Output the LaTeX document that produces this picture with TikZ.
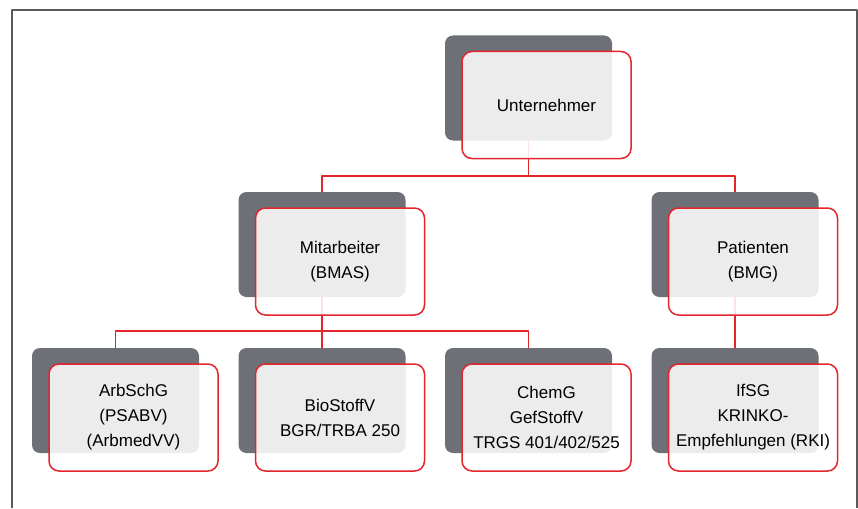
\documentclass[tikz,border=0pt]{standalone}
\usepackage{fontspec}
\setmainfont{Liberation Sans}
\usepackage{xcolor}
\usepackage{tikz}
\usetikzlibrary{positioning}
\definecolor{frame}{HTML}{5A5A5A}
\definecolor{shade}{HTML}{6E7078}
\definecolor{redline}{HTML}{E5252C}
\tikzset{
  BackBox/.style={
    fill=shade, draw=none,
    rounded corners=8pt,
    minimum width=167pt, minimum height=105pt
  },
  FrontBox/.style={
    draw=redline, line width=1.5pt,
    fill=white, fill opacity=0.87, text opacity=1,
    rounded corners=10pt,
    minimum width=169pt, minimum height=107pt,
    align=center, font=\fontsize{17}{25}\selectfont
  },
  Link/.style={draw=redline, line width=1.3pt}
}

\begin{document}
\begin{tikzpicture}[x=1pt, y=-1pt, line cap=round, line join=round]
  \useasboundingbox (0,0) rectangle (858,508);
  % open frame around the chart
  \draw[frame, line width=1.6pt, line cap=butt] (12,508) -- (12,10) -- (857,10) -- (857,508);

  % dark cards behind
  \foreach \nm/\px/\py in {un/528.5/88, mit/322/244.5, pat/735/244.5,
      arb/115.5/400.5, bio/322/400.5, chem/528.5/400.5, ifsg/735/400.5}
    \node[BackBox] (\nm B) at (\px,\py) {};

  % connectors
  \coordinate (busA) at (528.5,176);
  \coordinate (busB) at (322,331);
  \draw[Link] (unB.south) -- (busA);
  \draw[Link] (mitB.north) |- (busA) -| (patB.north);
  \draw[Link] (mitB.south) -- (busB);
  \draw[Link] (arbB.north) |- (busB) -| (chemB.north);
  \draw[Link] (busB) -- (bioB.north);
  \draw[Link] (patB.south) -- (ifsgB.north);

  % front cards with text
  \node[FrontBox] (un)   at ([shift={(18,17)}]unB)   {Unternehmer};
  \node[FrontBox] (mit)  at ([shift={(18,17)}]mitB)  {Mitarbeiter\\(BMAS)};
  \node[FrontBox] (pat)  at ([shift={(18,17)}]patB)  {Patienten\\(BMG)};
  \node[FrontBox] (arb)  at ([shift={(18,17)}]arbB)  {ArbSchG\\(PSABV)\\(ArbmedVV)};
  \node[FrontBox] (bio)  at ([shift={(18,17)}]bioB)  {BioStoffV\\BGR/TRBA 250};
  \node[FrontBox] (chem) at ([shift={(18,17)}]chemB) {ChemG\\GefStoffV\\TRGS 401/402/525};
  \node[FrontBox] (ifsg) at ([shift={(18,17)}]ifsgB) {IfSG\\KRINKO-\\Empfehlungen (RKI)};
\end{tikzpicture}
\end{document}
